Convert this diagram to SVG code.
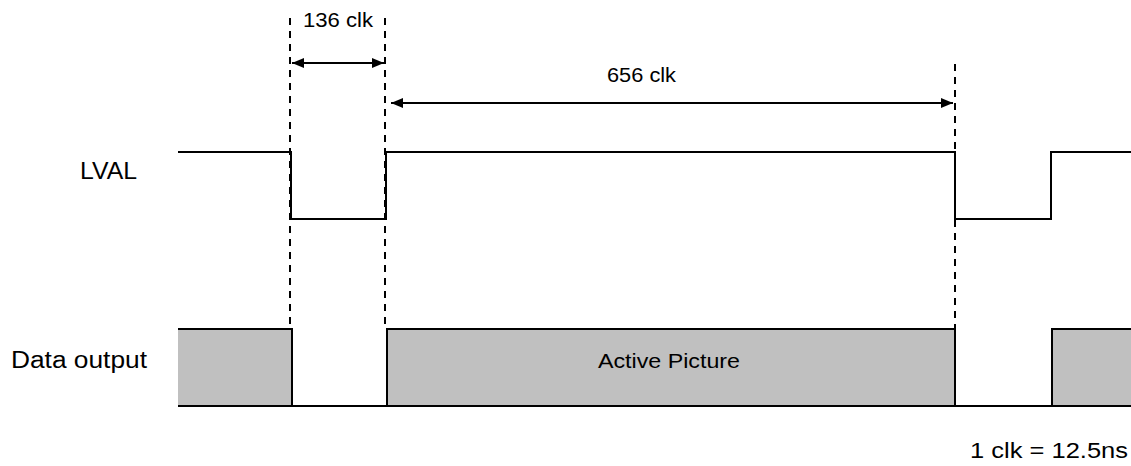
<svg xmlns="http://www.w3.org/2000/svg" width="1131" height="466" viewBox="0 0 1131 466">
<style>
.t{font-family:"Liberation Sans",Arial,sans-serif;fill:#000}
.sig{fill:none;stroke:#000;stroke-width:2}
.dash{fill:none;stroke:#000;stroke-width:2;stroke-dasharray:7 6}
.dim{fill:none;stroke:#000;stroke-width:2}
.box{fill:#c0c0c0;stroke:none}
</style>
<defs>
<marker id="ah" viewBox="0 0 12 10" refX="12" refY="5" markerWidth="12" markerHeight="10" markerUnits="userSpaceOnUse" orient="auto-start-reverse">
<path d="M0,0 L12,5 L0,10 Z" fill="#000"/>
</marker>
</defs>
<rect width="1131" height="466" fill="#fff"/>
<g id="data-output">
<rect class="box" x="178" y="329" width="114" height="77"/>
<rect class="box" x="387" y="329" width="568" height="77"/>
<rect class="box" x="1052" y="329" width="79" height="77"/>
<path class="sig" d="M178,329 H292 V406 M387,406 V329 H955 V406 M1052,406 V329 H1131 M178,406 H1131"/>
<text class="t" x="598" y="368" font-size="21" textLength="142" lengthAdjust="spacingAndGlyphs">Active Picture</text>
</g>
<g id="lval">
<path class="sig" d="M178,152 H291 V219 H386 V152 H955 V219 H1051 V152 H1131"/>
</g>
<g id="connectors">
<line class="dash" x1="290" y1="18" x2="290" y2="330"/>
<line class="dash" x1="385" y1="18" x2="385" y2="330"/>
<line class="dash" x1="955" y1="64" x2="955" y2="330"/>
<line class="dim" x1="292" y1="63" x2="384" y2="63" marker-start="url(#ah)" marker-end="url(#ah)"/>
<line class="dim" x1="391" y1="103" x2="953" y2="103" marker-start="url(#ah)" marker-end="url(#ah)"/>
</g>
<g id="labels">
<text class="t" x="303" y="27" font-size="20" textLength="70" lengthAdjust="spacingAndGlyphs">136 clk</text>
<text class="t" x="607" y="82" font-size="20" textLength="69" lengthAdjust="spacingAndGlyphs">656 clk</text>
<text class="t" x="80" y="179" font-size="23" textLength="57" lengthAdjust="spacingAndGlyphs">LVAL</text>
<text class="t" x="11" y="368" font-size="23" textLength="136" lengthAdjust="spacingAndGlyphs">Data output</text>
<text class="t" x="970" y="458" font-size="22" textLength="158" lengthAdjust="spacingAndGlyphs">1 clk = 12.5ns</text>
</g>
</svg>
